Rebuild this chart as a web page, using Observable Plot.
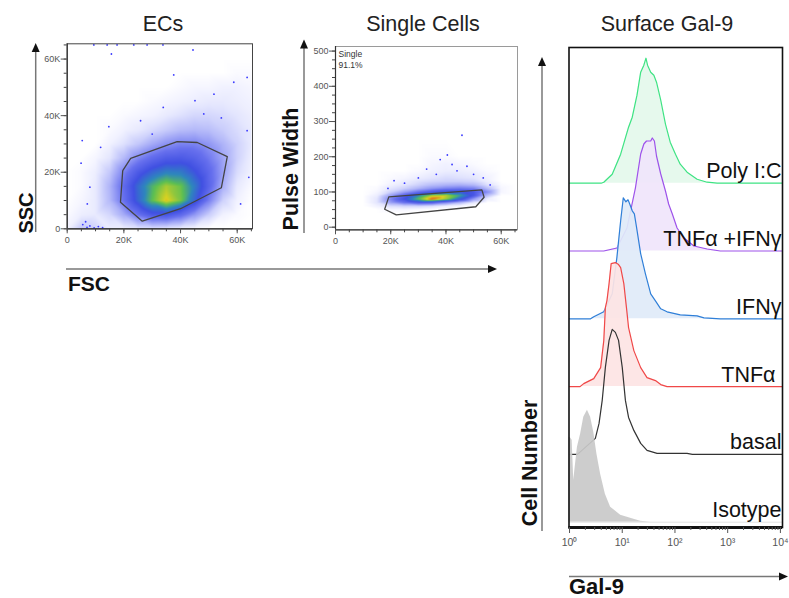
<!DOCTYPE html>
<html><head><meta charset="utf-8">
<script src="https://cdn.jsdelivr.net/npm/d3@7"></script>
<script src="https://cdn.jsdelivr.net/npm/@observablehq/plot@0.6"></script>
<style>
body{margin:0;background:#fff;}
#fig{position:relative;width:789px;height:598px;overflow:hidden;font-family:"Liberation Sans",Arial,sans-serif;background:#fff;}
</style></head><body><div id="fig"></div>
<script>
// ---------- DATA ----------
// ECs (FSC vs SSC): estimated event density on a 5K grid (rows: SSC top→bottom, cols: FSC 0→65K)
const ecGridX = [0,5000,10000,15000,20000,25000,30000,35000,40000,45000,50000,55000,60000,65000];
const ecGridY = [65000,60000,55000,50000,45000,40000,35000,30000,25000,20000,15000,10000,5000,0];
const ecDensity = [
 [0,0,0,0,0,0,0,0,0,0,0,0,0,0],
 [0,0,0,0,0,0,0,0,0,0,0,0,0,0],
 [0,0,0,0,0,0,0,0,0,0,0,0,0.1,0.1],
 [0,0,0,0,0,0,0,0,0.1,0.2,0.2,0.3,0.3,0.2],
 [0,0,0,0,0,0,0.1,0.2,0.3,0.4,0.5,0.5,0.4,0.3],
 [0,0,0,0,0.1,0.2,0.3,0.5,0.7,0.9,0.9,0.8,0.6,0.4],
 [0,0,0,0.1,0.3,0.5,0.8,1.1,1.4,1.5,1.4,1.1,0.8,0.5],
 [0,0,0,0.3,0.7,1.2,1.8,2.3,2.6,2.6,2.2,1.6,1.0,0.5],
 [0,0,0.2,0.6,1.5,2.5,3.2,3.7,3.8,3.5,2.8,1.9,1.0,0.4],
 [0,0.1,0.4,1.2,2.6,3.8,4.6,5.1,5.0,4.3,3.3,2.0,0.8,0.3],
 [0,0.1,0.5,1.6,3.2,4.7,5.8,6.5,6.1,5.0,3.4,1.7,0.5,0.1],
 [0,0.2,0.5,1.5,3.0,4.6,6.0,6.9,6.2,4.6,2.7,1.0,0.3,0],
 [0.1,0.4,0.5,0.9,1.8,3.0,3.9,4.0,3.3,2.2,1.1,0.3,0.1,0],
 [0.3,1.2,1.0,0.4,0.4,0.6,0.7,0.6,0.4,0.2,0,0,0,0]
];
// isolated events [FSC, SSC]
const ecOutliers = [[9400,65000],[14100,65000],[17600,65000],[23500,65000],[28200,65000],[33800,65000],
 [15600,61800],[44400,63200],[37600,54400],[45100,45300],[63500,53500],[58800,51800],[54400,39200],
 [33900,42900],[14700,36100],[5300,31200],[4900,23200],[8000,14700],[11800,28800],[48200,40600],
 [25900,38200],[63500,34700],[64100,18200],[61200,8800],[7100,8800],[51800,47600],[30000,33500],
 [7000,500],[8000,1000],[9500,300],[11000,800],[5500,1500],[12500,400],[6500,2500]];
// ECs gate polygon [FSC, SSC]
const ecGate = [[19600,20600],[22400,24900],[38800,30800],[45900,30500],[56500,25500],[54400,14500],
 [40000,7100],[26500,2700],[18800,9400]];

// Single Cells (FSC vs Pulse Width)
const scGridX = [0,5000,10000,15000,20000,25000,30000,35000,40000,45000,50000,55000,60000,65000];
const scGridY = [520,400,300,250,200,180,160,140,130,120,110,100,90,80,70,60,50,40,20,0,-10];
const scDensity = [
 [0,0,0,0,0,0,0,0,0,0,0,0,0,0],
 [0,0,0,0,0,0,0,0,0,0,0,0,0,0],
 [0,0,0,0,0,0,0,0,0,0,0,0,0,0],
 [0,0,0,0,0,0,0,0,0,0,0,0,0,0],
 [0,0,0,0,0,0,0,0.1,0.1,0,0,0,0,0],
 [0,0,0,0,0,0,0,0.2,0.3,0.2,0.1,0,0,0],
 [0,0,0,0,0,0,0.1,0.3,0.4,0.4,0.3,0.1,0,0],
 [0,0,0,0,0.1,0.2,0.4,0.6,0.8,0.7,0.6,0.3,0,0],
 [0,0,0,0,0.2,0.4,0.7,0.9,1.0,1.0,0.9,0.4,0,0],
 [0,0,0,0,0.3,0.6,1.0,1.4,1.6,1.7,1.5,0.7,0.1,0],
 [0,0,0,0.1,0.6,1.0,1.6,2.2,2.6,2.8,2.6,1.4,0.2,0],
 [0,0,0,0.2,1.0,2.0,3.0,3.8,4.4,4.4,4.0,2.4,0.2,0],
 [0,0,0,0.4,2.0,3.5,5.2,6.5,6.6,5.6,4.0,1.4,0,0],
 [0,0,0,0.6,2.6,4.2,6.0,7.5,6.5,4.6,2.2,0.4,0,0],
 [0,0,0,0.6,2.0,3.0,3.8,3.6,2.6,1.6,0.6,0,0,0],
 [0,0,0,0.3,0.8,1.0,1.0,0.8,0.4,0.2,0,0,0,0],
 [0,0,0,0,0.2,0.2,0.1,0,0,0,0,0,0,0],
 [0,0,0,0,0,0,0,0,0,0,0,0,0,0],
 [0,0,0,0,0,0,0,0,0,0,0,0,0,0],
 [0,0,0,0,0,0,0,0,0,0,0,0,0,0],
 [0,0,0,0,0,0,0,0,0,0,0,0,0,0]
];
const scOutliers = [[45800,261],[37900,192],[42200,178],[47600,173],[21200,132],[36500,150],[44000,160],
 [50000,150],[30000,140],[25000,125],[53500,140],[40500,205],[33000,165],[56000,120],[19000,110]];
const scGate = [[19300,86],[53000,106],[53800,85],[50800,58],[22000,35],[17800,51]];
const scGateLabel = ["Single", "91.1%"];

// Surface Gal-9 histograms: [log10 Gal-9, cell count (rel.)]
const histNames = ["Poly I:C", "TNFα +IFNγ", "IFNγ", "TNFα\u00a0", "basal", "Isotype"];
const polyIC = [[0,0],[0.6,0],[0.65,1],[0.81,9],[0.97,29],[1.12,56],[1.19,66],[1.28,88],[1.35,111],[1.41,118],[1.45,125],[1.48,118],[1.54,111],[1.60,108],[1.65,101],[1.73,83],[1.82,59],[1.91,41],[2.01,29],[2.10,19],[2.23,11],[2.42,4],[2.61,1],[2.80,0],[4.04,0]];
const tnfIfn = [[0,0],[0.65,0],[0.90,3],[1.09,23],[1.25,63],[1.35,97],[1.41,107],[1.46,110],[1.54,110],[1.57,113],[1.61,110],[1.65,95],[1.73,77],[1.82,60],[1.88,47],[1.95,37],[2.04,23],[2.17,13],[2.36,5],[2.61,2],[2.86,0],[4.04,0]];
const ifn = [[0,0],[0.40,0],[0.46,2],[0.65,7],[0.81,25],[0.90,62],[0.97,98],[1.02,121],[1.07,117],[1.11,119],[1.14,115],[1.19,108],[1.23,105],[1.27,92],[1.35,65],[1.44,45],[1.54,25],[1.63,18],[1.73,10],[1.85,7],[2.10,4],[2.42,3],[2.55,1],[2.86,0],[4.04,0]];
const tnf = [[0,0],[0.2,0],[0.27,3],[0.46,8],[0.59,19],[0.65,46],[0.68,79],[0.71,86],[0.75,103],[0.79,123],[0.87,124],[0.93,122],[0.97,119],[1.03,103],[1.08,79],[1.12,59],[1.22,36],[1.35,19],[1.47,9],[1.63,6],[1.73,2],[1.85,0],[4.04,0]];
const basal = [[0,0],[0.15,0],[0.49,16],[0.56,31],[0.62,54],[0.68,87],[0.75,114],[0.81,125],[0.87,122],[0.93,114],[1.0,87],[1.06,54],[1.12,37],[1.22,24],[1.35,11],[1.47,4],[1.66,1],[2.23,1],[2.33,0],[4.04,0]];
const isotype = [[-0.01,85],[0.01,85],[0.05,82],[0.08,42],[0.15,75],[0.21,88],[0.27,105],[0.34,112],[0.40,105],[0.46,90],[0.52,68],[0.59,48],[0.68,28],[0.78,15],[0.97,7],[1.22,3],[1.35,1],[1.54,0],[4.04,0]];
const histDecades = [0,1,2,3,4];

// ---------- STYLE / CONFIG ----------
const FONT = "'Liberation Sans', Arial, sans-serif";
const densityStops = [0, 0.15, 0.6, 1.2, 2.0, 3.0, 4.2, 5.2, 6.0, 6.8, 7.6];
const densityColors = ["#ffffff","#f8f8ff","#e4e6fe","#c4c8fb","#9ba1f6","#6770ee","#4050e2","#2e86bd","#5cbf52","#d8d222","#e8421c"];
const histStyles = [
  {stroke:"#3ee383", fill:"#e4f9ec"},
  {stroke:"#9d52ea", fill:"#f0e5fb"},
  {stroke:"#2f7fd8", fill:"#dfeaf8"},
  {stroke:"#f04848", fill:"#fde4e4"},
  {stroke:"#333333", fill:null},
  {stroke:null, fill:"#c9c9c9"}
];
const histData = [polyIC, tnfIfn, ifn, tnf, basal, isotype];

const fig = document.getElementById("fig");
function place(el, left, top){
  el.style.position = "absolute"; el.style.left = left + "px"; el.style.top = top + "px";
  fig.appendChild(el);
}
function gridPoints(xs, ys, rows){
  const out = [];
  ys.forEach((y, i) => xs.forEach((x, j) => out.push({x, y, v: rows[i][j]})));
  return out;
}
const kFmt = d => d === 0 ? "0" : (d/1000) + "K";
const range = (a, b, s) => d3.range(a, b + s/2, s);

function scatterPanel(o){
  const pts = gridPoints(o.gx, o.gy, o.density);
  const gate = [...o.gate, o.gate[0]];
  return Plot.plot({
    width: o.width, height: o.height,
    marginLeft: o.ml, marginRight: o.mr, marginTop: o.mt, marginBottom: o.mb,
    x: {domain: o.xd}, y: {domain: o.yd},
    color: {type: "linear", domain: densityStops, range: densityColors, clamp: true},
    style: {fontFamily: FONT, background: "transparent", overflow: "visible"},
    marks: [
      Plot.raster(pts, {x: "x", y: "y", fill: "v", interpolate: "barycentric",
        x1: o.xd[0], x2: o.xd[1], y1: o.yd[0], y2: o.yd[1], pixelSize: 1}),
      Plot.dot(o.outliers, {x: d => d[0], y: d => d[1], r: 0.9, fill: "#3a3aff", stroke: null}),
      Plot.line(gate, {x: d => d[0], y: d => d[1], stroke: "#444", strokeWidth: 1.3, curve: "linear"}),
      ...(o.extra || []),
      Plot.frame({stroke: o.frameColor, strokeWidth: 1}),
      Plot.ruleX([o.xd[0]], {stroke: "#333", strokeWidth: 1.2}),
      Plot.ruleY([o.yd[0]], {stroke: "#333", strokeWidth: 1.2}),
      Plot.axisX(o.xMinor, {tickSize: 3, tickFormat: () => "", label: null, color: "#444"}),
      Plot.axisX(o.xMajor, {tickSize: 5, tickFormat: kFmt, label: null, fontSize: 9, color: "#555", tickPadding: 3}),
      Plot.axisY(o.yMinor, {tickSize: 3, tickFormat: () => "", label: null, color: "#444"}),
      Plot.axisY(o.yMajor, {tickSize: 6, tickFormat: o.yFmt, label: null, fontSize: 9, color: "#555", tickPadding: 1})
    ]
  });
}

// ECs
place(scatterPanel({
  width: 270, height: 260, ml: 66.7, mr: 18, mt: 43.3, mb: 31.7,
  xd: [0, 65400], yd: [0, 65400],
  gx: ecGridX, gy: ecGridY, density: ecDensity, outliers: ecOutliers, gate: ecGate,
  frameColor: "#444",
  xMinor: range(0, 65000, 5000), xMajor: [0, 20000, 40000, 60000],
  yMinor: range(0, 65000, 5000), yMajor: [0, 20000, 40000, 60000], yFmt: kFmt
}), 0, 0);

// Single Cells
place(scatterPanel({
  width: 270, height: 260, ml: 65, mr: 23, mt: 46, mb: 30.7,
  xd: [0, 65900], yd: [-7.4, 513],
  gx: scGridX, gy: scGridY, density: scDensity, outliers: scOutliers, gate: scGate,
  frameColor: "#9a9a9a",
  extra: [Plot.text([scGateLabel.join("\n")], {frameAnchor: "top-left", dx: 3, dy: 3, fontSize: 8.5,
    lineAnchor: "top", lineHeight: 1.3, fill: "#333"})],
  xMinor: range(0, 65000, 5000), xMajor: [0, 20000, 40000, 60000],
  yMinor: range(0, 500, 25), yMajor: [0, 100, 200, 300, 400, 500], yFmt: d => String(d)
}), 270, 0);

// Histogram overlay
const BAND = 67.8, BASE0 = 5.3;
const histMarks = [];
const nH = histData.length;
histData.forEach((pts, i) => {
  const off = BASE0 + (nH - 1 - i) * BAND;
  const rows = pts.map(([x, h]) => ({x, y1: off, y2: off + h}));
  const st = histStyles[i];
  if (st.fill) histMarks.push(Plot.areaY(rows, {x: "x", y1: "y1", y2: "y2", fill: st.fill, fillOpacity: 0.92}));
  if (st.stroke) histMarks.push(Plot.line(rows, {x: "x", y: "y2", stroke: st.stroke, strokeWidth: 1.2}));
  else histMarks.push(Plot.ruleY([off], {stroke: "#e2e2e2", strokeWidth: 1}));
});
const labelRows = histNames.map((name, i) => ({name, off: BASE0 + (nH - 1 - i) * BAND}));
const sup = ["⁰","¹","²","³","⁴"];
const minorTicks = [];
for (let d = 0; d < 4; d++) for (let k = 2; k <= 9; k++) minorTicks.push(d + Math.log10(k));
const hist = Plot.plot({
  width: 249, height: 520, marginLeft: 28.5, marginRight: 7, marginTop: 7, marginBottom: 33,
  x: {domain: [-0.01, 4.04]}, y: {domain: [0, 480], axis: null},
  style: {fontFamily: FONT, background: "transparent", overflow: "visible"},
  marks: [
    ...histMarks,
    Plot.text(labelRows, {text: "name", y: d => d.off + 5, frameAnchor: "right", textAnchor: "end",
      dx: -1, fontSize: 21.5, lineAnchor: "bottom", fill: "#111"}),
    Plot.frame({stroke: "#111", strokeWidth: 1.6}),
    Plot.ruleY([0], {stroke: "#111", strokeWidth: 3}),
    Plot.axisX(minorTicks, {tickSize: 3, tickFormat: () => "", label: null, color: "#555", tickPadding: 0}),
    Plot.axisX(histDecades, {tickSize: 6, tickFormat: d => "10" + sup[d], label: null, fontSize: 10.5, color: "#555", tickPadding: 5})
  ]
});
place(hist, 540, 40);

// ---------- annotations: titles, axis arrows & axis names ----------
const svg = d3.create("svg").attr("width", 789).attr("height", 598)
  .style("font-family", FONT).style("pointer-events", "none");
const titles = [["ECs", 163], ["Single Cells", 423], ["Surface Gal-9", 667]];
titles.forEach(([t, x]) => svg.append("text").attr("x", x).attr("y", 31).attr("text-anchor", "middle")
  .attr("font-size", 21.5).attr("fill", "#222").text(t));
function arrowV(x, yBottom, yTip){
  svg.append("line").attr("x1", x).attr("x2", x).attr("y1", yBottom).attr("y2", yTip + 8).attr("stroke", "#777").attr("stroke-width", 1.5);
  svg.append("path").attr("d", `M${x},${yTip} L${x-4},${yTip+9} L${x+4},${yTip+9} Z`).attr("fill", "#111");
}
function arrowH(y, xLeft, xTip){
  svg.append("line").attr("x1", xLeft).attr("x2", xTip - 8).attr("y1", y).attr("y2", y).attr("stroke", "#777").attr("stroke-width", 1.5);
  svg.append("path").attr("d", `M${xTip},${y} L${xTip-9},${y-4} L${xTip-9},${y+4} Z`).attr("fill", "#111");
}
arrowV(35.7, 232, 43);
arrowV(304, 233, 39.5);
arrowV(542, 531, 57);
arrowH(269, 66, 497);
arrowH(576.5, 569, 788);
function vLabel(t, x, y, size){
  svg.append("text").attr("transform", `translate(${x},${y}) rotate(-90)`).attr("text-anchor", "middle")
    .attr("font-size", size).attr("font-weight", "bold").attr("fill", "#111").text(t);
}
vLabel("SSC", 33, 213, 20);
vLabel("Pulse Width", 298, 169, 21.5);
vLabel("Cell Number", 537, 463, 21.5);
svg.append("text").attr("x", 68).attr("y", 291).attr("font-size", 21).attr("font-weight", "bold").attr("fill", "#111").text("FSC");
svg.append("text").attr("x", 569).attr("y", 594).attr("font-size", 22).attr("font-weight", "bold").attr("fill", "#111").text("Gal-9");
place(svg.node(), 0, 0);
</script>
</body></html>
